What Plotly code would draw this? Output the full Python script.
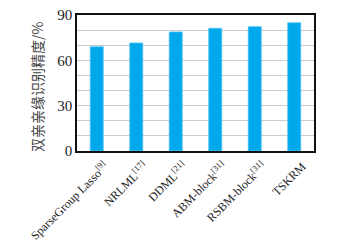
import plotly.graph_objects as go

categories = ["SparseGroup Lasso<sup>[9]</sup>", "NRLML<sup>[17]</sup>", "DDML<sup>[21]</sup>",
              "ABM-block<sup>[31]</sup>", "RSBM-block<sup>[31]</sup>", "TSKRM"]
values = [69.0, 71.5, 78.8, 81.2, 82.3, 84.9]
y_ticks = [0, 30, 60, 90]
y_title = "双亲亲缘识别精度/%"

fig = go.Figure(go.Bar(
    x=categories, y=values, width=0.33,
    marker=dict(color="#00A9EC", line=dict(color="#52C4F3", width=0.8)),
))

fig.update_layout(
    width=340, height=242,
    margin=dict(l=77, r=26, t=15, b=91),
    paper_bgcolor="white", plot_bgcolor="white",
    showlegend=False,
    font=dict(family="Liberation Serif", color="#222"),
)
fig.update_xaxes(
    tickangle=-45, tickfont=dict(size=12, family="Liberation Serif", color="#222"),
    showline=True, linecolor="#111", linewidth=1.5, mirror=True,
    ticks="", showgrid=False, automargin=False,
    ticklabelshift=8, ticklabelstandoff=2,
)
fig.update_yaxes(
    range=[0, 90], tickvals=y_ticks,
    tickfont=dict(size=15, family="Liberation Serif", color="#222"),
    showline=True, linecolor="#111", linewidth=1.5, mirror=True,
    showgrid=True, gridcolor="#cccccc", gridwidth=1,
    minor=dict(dtick=10, showgrid=True, gridcolor="#cccccc", gridwidth=1),
    ticks="", zeroline=False, automargin=False,
)
fig.add_annotation(
    text=y_title, xref="paper", yref="paper", x=-0.169, y=0.47,
    xanchor="center", yanchor="middle", textangle=-90, showarrow=False,
    font=dict(size=14, family="Noto Sans CJK SC", color="#444"),
)

fig.write_html("out.html")
